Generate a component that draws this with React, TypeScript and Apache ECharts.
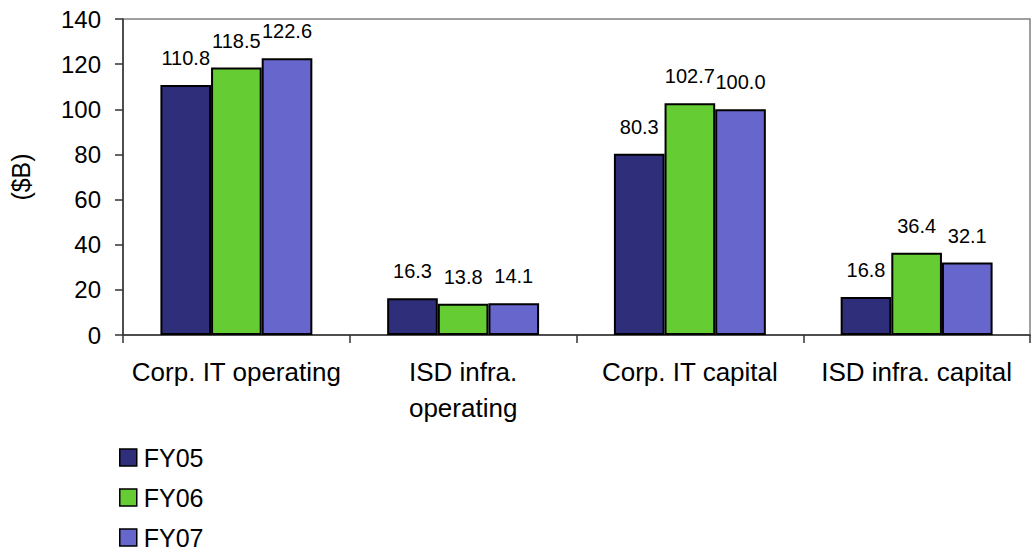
import React, { useEffect, useRef } from "react";
import * as echarts from "echarts";

const categories = ["Corp. IT operating", "ISD infra.\noperating", "Corp. IT capital", "ISD infra. capital"];
const seriesNames = ["FY05", "FY06", "FY07"];
const fy05 = [110.8, 16.3, 80.3, 16.8];
const fy06 = [118.5, 13.8, 102.7, 36.4];
const fy07 = [122.6, 14.1, 100.0, 32.1];
const colors = ["#2E2E7A", "#66CC33", "#6666CC"];
const yMin = 0;
const yMax = 140;
const yInterval = 20;

const FONT = "'Liberation Sans', Arial, sans-serif";

export default function App() {
  const ref = useRef<HTMLDivElement>(null);
  useEffect(() => {
    if (!ref.current) return;
    const chart = echarts.init(ref.current, undefined, { renderer: "svg" });
    const data = [fy05, fy06, fy07];
    chart.setOption({
      animation: false,
      backgroundColor: "#ffffff",
      textStyle: { fontFamily: FONT },
      grid: {
        left: 122,
        top: 19,
        right: 3,
        bottom: 218,
        show: true,
        borderColor: "#808080",
        borderWidth: 1.5,
        backgroundColor: "transparent",
      },
      legend: {
        orient: "vertical",
        left: 119,
        top: 445,
        padding: 0,
        itemWidth: 17,
        itemHeight: 17,
        itemGap: 15,
        itemStyle: { borderColor: "#000", borderWidth: 1.5 },
        textStyle: { fontFamily: FONT, fontSize: 25, color: "#000", lineHeight: 24, padding: [0, 0, 0, 2] },
        icon: "rect",
        data: seriesNames,
      },
      xAxis: {
        type: "category",
        data: categories,
        axisLine: { lineStyle: { color: "#333", width: 1.5 } },
        axisTick: { show: true, length: 8, interval: 0, alignWithLabel: false, lineStyle: { color: "#333", width: 1.5 } },
        axisLabel: {
          interval: 0,
          margin: 19,
          fontFamily: FONT,
          fontSize: 26,
          lineHeight: 36,
          color: "#000",
        },
      },
      yAxis: {
        type: "value",
        min: yMin,
        max: yMax,
        interval: yInterval,
        name: "($B)",
        nameLocation: "middle",
        nameGap: 90,
        nameRotate: 90,
        nameTextStyle: { fontFamily: FONT, fontSize: 25, color: "#000" },
        splitLine: { show: false },
        axisLine: { show: true, lineStyle: { color: "#333", width: 1.5 } },
        axisTick: { show: true, length: 8, lineStyle: { color: "#333", width: 1.5 } },
        axisLabel: { margin: 22, fontFamily: FONT, fontSize: 24, color: "#000" },
      },
      series: seriesNames.map((name, i) => ({
        name,
        type: "bar",
        data: data[i],
        barGap: "0%",
        barCategoryGap: "33%",
        itemStyle: { color: colors[i], borderColor: "#000", borderWidth: 2 },
        label: {
          show: true,
          position: "top",
          distance: 17,
          fontFamily: FONT,
          fontSize: 20,
          color: "#000",
          formatter: (p: any) => Number(p.value).toFixed(1),
        },
      })),
    });
    return () => chart.dispose();
  }, []);
  return (
    <div
      ref={ref}
      style={{ position: "absolute", left: 0, top: 0, width: 1033, height: 553 }}
    />
  );
}
